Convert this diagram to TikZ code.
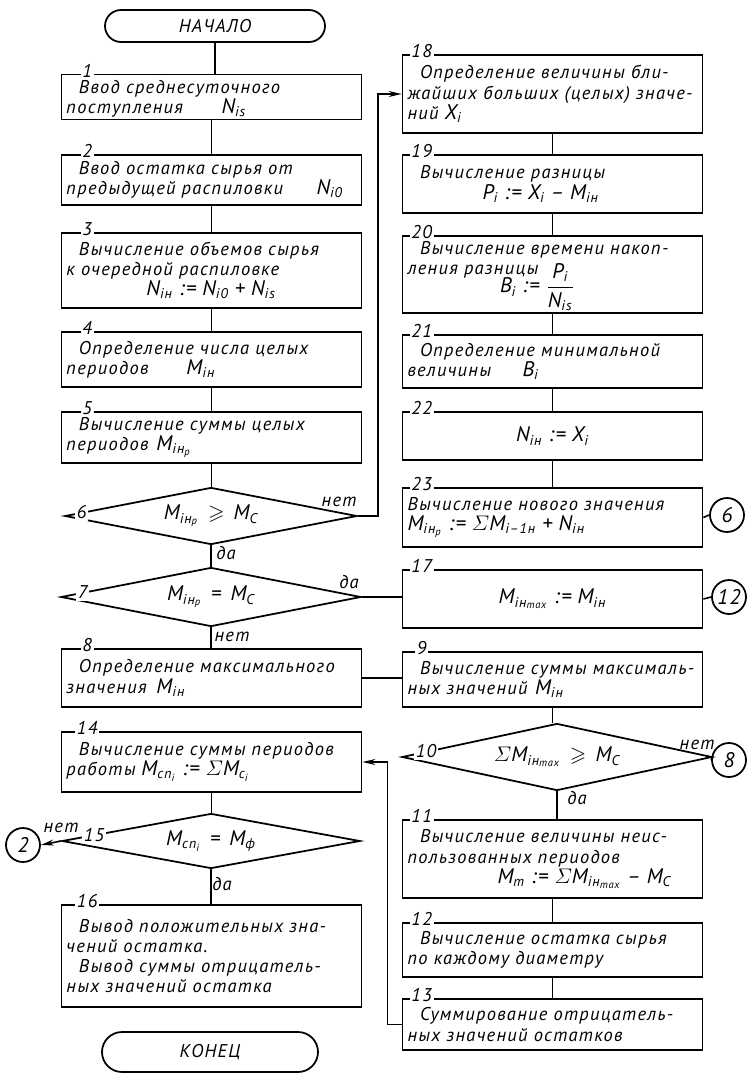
\documentclass[tikz,border=0pt]{standalone}
\usepackage{amsmath}
\usepackage{amssymb}
\usepackage{fontspec}
\setmainfont{PT Sans}[LetterSpace=7, WordSpace=1.3]
\usetikzlibrary{arrows.meta, shapes.geometric}

\newcommand{\sbs}[1]{\textsubscript{#1}}
\newcommand{\fml}{\fontsize{12}{13}\selectfont}

\begin{document}
\begin{tikzpicture}[
    x=0.2mm, y=-0.2mm,
    every node/.style={font=\itshape\fontsize{10.5}{11.5}\selectfont},
    box/.style={draw, line width=1pt, rectangle, minimum width=60mm, text width=58mm,
                inner xsep=1mm, inner ysep=0.5mm, align=left},
    cbox/.style={box, align=center},
    term/.style={draw, line width=1pt, rectangle},
    cond/.style={draw, line width=1pt, diamond, aspect=5, inner sep=0pt,
                 font=\itshape\fml},
    conn/.style={draw, line width=1pt, circle, minimum size=6.8mm, inner sep=0pt,
                 font=\itshape\fml},
    num/.style={fill=white, inner sep=1pt},
    line/.style={line width=0.9pt},
    arr/.style={line, -{Stealth[length=2.6mm, width=1.2mm]}}
]
\useasboundingbox (0,0) rectangle (747,1075);

% left column
\node[term, minimum width=44mm, minimum height=6.4mm, rounded corners=3.2mm] (start) at (215,26) {НАЧАЛО};
\node[box, minimum height=7.8mm] (b1) at (211.5,97) {
    \rule{0pt}{3.2mm}\hspace*{2.5mm}Ввод среднесуточного\\
    \makebox[31mm][l]{поступления}{\fml N\sbs{is}}};
\node[box, minimum height=10mm] (b2) at (211.5,180) {
    \hspace*{2.5mm}Ввод остатка сырья от\\
    \makebox[50mm][l]{предыдущей распиловки}{\fml N\sbs{i0}}};
\node[box, minimum height=15mm] (b3) at (211.5,270.5) {
    \hspace*{2.5mm}Вычисление объемов сырья\\
    к очередной распиловке\\
    \hspace*{16mm}{\fml N\sbs{iн} := N\sbs{i0} + N\sbs{is}}};
\node[box, minimum height=11mm] (b4) at (211.5,359.5) {
    \hspace*{2.5mm}Определение числа целых\\
    \makebox[24mm][l]{периодов}{\fml M\sbs{iн}}};
\node[box, minimum height=10.2mm] (b5) at (211.5,437.5) {
    \hspace*{2.5mm}Вычисление суммы целых\\
    \makebox[18mm][l]{периодов}{\fml M\sbs{iн\sbs{p}}}};
\node[cond, minimum width=58.4mm, minimum height=11.4mm] (d6) at (211,516)
    {M\sbs{iн\sbs{p}} $\geqslant$ M\sbs{С}};
\node[cond, minimum width=60mm, minimum height=11.8mm] (d7) at (211,597)
    {M\sbs{iн\sbs{p}} = M\sbs{С}};
\node[box, minimum height=11.6mm] (b8) at (211.5,678) {
    \hspace*{2.5mm}Определение максимального\\
    \makebox[18mm][l]{значения}{\fml M\sbs{iн}}};
\node[box, minimum height=12mm] (b14) at (211.5,762) {
    \hspace*{2.5mm}Вычисление суммы периодов\\
    \makebox[15mm][l]{работы}{\fml M\sbs{сп\sbs{i}} := $\varSigma$M\sbs{с\sbs{i}}}};
\node[cond, minimum width=59.6mm, minimum height=11mm] (d15) at (211,841)
    {M\sbs{сп\sbs{i}} = M\sbs{ф}};
\node[box, minimum height=20.4mm] (b16) at (211.5,956) {
    \hspace*{2.5mm}Вывод положительных зна-\\
    чений остатка.\\
    \hspace*{2.5mm}Вывод суммы отрицатель-\\
    ных значений остатка};
\node[term, minimum width=43.2mm, minimum height=8mm, rounded corners=4mm] (stop) at (210,1052) {КОНЕЦ};

% right column
\node[box, minimum height=15.6mm] (b18) at (552.5,94) {
    \hspace*{2.5mm}Определение величины бли-\\
    жайших больших (целых) значе-\\
    ний {\fml X\sbs{i}}};
\node[box, minimum height=11.6mm] (b19) at (552.5,184) {
    \hspace*{2.5mm}Вычисление разницы\\
    \hspace*{15mm}{\fml P\sbs{i} := X\sbs{i} -- M\sbs{iн}}};
\node[box, minimum height=15mm] (b20) at (552.5,274.5) {
    \rule{0pt}{3.2mm}\hspace*{2.5mm}Вычисление времени накоп-\\
    \makebox[18.5mm][l]{ления разницы}\raisebox{-2ex}{\fml B\sbs{i} :=
    $\displaystyle\frac{\mbox{P\sbs{i}}}{\mbox{N\sbs{is}}}$}};
\node[box, minimum height=10.6mm] (b21) at (552.5,361.5) {
    \hspace*{2.5mm}Определение минимальной\\
    \makebox[23mm][l]{величины}{\fml B\sbs{i}}};
\node[cbox, minimum height=9.6mm] (b22) at (552.5,436) {{\fml N\sbs{iн} := X\sbs{i}}};
\node[box, minimum height=11.8mm] (b23) at (552.5,517.5) {
    Вычисление нового значения\\
    {\fml M\sbs{iн\sbs{p}} := $\varSigma$M\sbs{i--1н} + N\sbs{iн}}};
\node[cbox, minimum height=11.6mm] (b17) at (552.5,599) {{\fml M\sbs{iн\sbs{max}} := M\sbs{iн}}};
\node[box, minimum height=11mm] (b9) at (552.5,679.5) {
    \hspace*{2.5mm}Вычисление суммы максималь-\\
    \makebox[25.5mm][l]{ных значений}{\fml M\sbs{iн}}};
\node[cond, minimum width=62mm, minimum height=13.4mm] (d10) at (557,757)
    {$\varSigma$M\sbs{iн\sbs{max}} $\geqslant$ M\sbs{С}};
\node[box, minimum height=15.6mm] (b11) at (552.5,859) {
    \hspace*{2.5mm}Вычисление величины неис-\\
    пользованных периодов\\
    \hspace*{18mm}{\fml M\sbs{m} := $\varSigma$M\sbs{iн\sbs{max}} -- M\sbs{С}}};
\node[box, minimum height=10.8mm] (b12) at (552.5,950) {
    \hspace*{2.5mm}Вычисление остатка сырья\\
    по каждому диаметру};
\node[box, minimum height=10.2mm] (b13) at (552.5,1024.5) {
    \hspace*{2.5mm}Суммирование отрицатель-\\
    ных значений остатков};

% connectors
\node[conn] (c2) at (23,845) {2};
\node[conn] (c6) at (727,515) {6};
\node[conn] (c12) at (729,597) {12};
\node[conn] (c8) at (729,760) {8};

% numbers
\foreach \n in {1,2,3,4,5,8,14,16}
    \node[num] (n\n) at ([xshift=5.3mm, yshift=0.6mm]b\n.north west) {\n};
\foreach \n in {18,19,20,21,22,23,17,9,11,12,13}
    \node[num] (n\n) at ([xshift=4mm, yshift=0.6mm]b\n.north west) {\n};
\path (d6.west) -- (d6.north) node[num, pos=0.12] (n6) {6};
\path (d7.west) -- (d7.north) node[num, pos=0.15] (n7) {7};
\path (d15.west) -- (d15.north) node[num, pos=0.22] (n15) {15};
\path (d10.west) -- (d10.north) node[num, pos=0.16] (n10) {10};

% flow
\foreach \a/\b in {start/b1, b1/b2, b2/b3, b3/b4, b4/b5, b5/d6, d6/d7, d7/b8,
                   b14/d15, d15/b16, b18/b19, b19/b20, b20/b21, b21/b22, b22/b23,
                   b9/d10, d10/b11, b11/b12, b12/b13}
    \draw[line] (\a.south) -- (\a.south |- \b.north);
\draw[arr] (d6.east) -- ++(20,0) |- (b18.west);
\draw[line] (d7.east) -- (d7.east -| b17.west);
\draw[line] (b8.east) -- (b8.east -| b9.west);
\draw[arr] (b13.west) -- ++(-14,0) |- (b14.east);
\draw[arr] (d15.west) -- (c2.east);
\draw[line] (b23.east) -- (c6.west);
\draw[line] (b17.east) -- (c12.west);
\draw[line] (d10.east) -- (c8.west);

% branch labels
\node (no6) at (339,502) {нет};
\node (yes6) at (226,553) {да};
\node (yes7) at (349,582) {да};
\node (no7) at (232,637) {нет};
\node (no15) at (61,828) {нет};
\node (yes15) at (222,884) {да};
\node (no10) at (697,745) {нет};
\node (yes10) at (577,798) {да};
\end{tikzpicture}
\end{document}
